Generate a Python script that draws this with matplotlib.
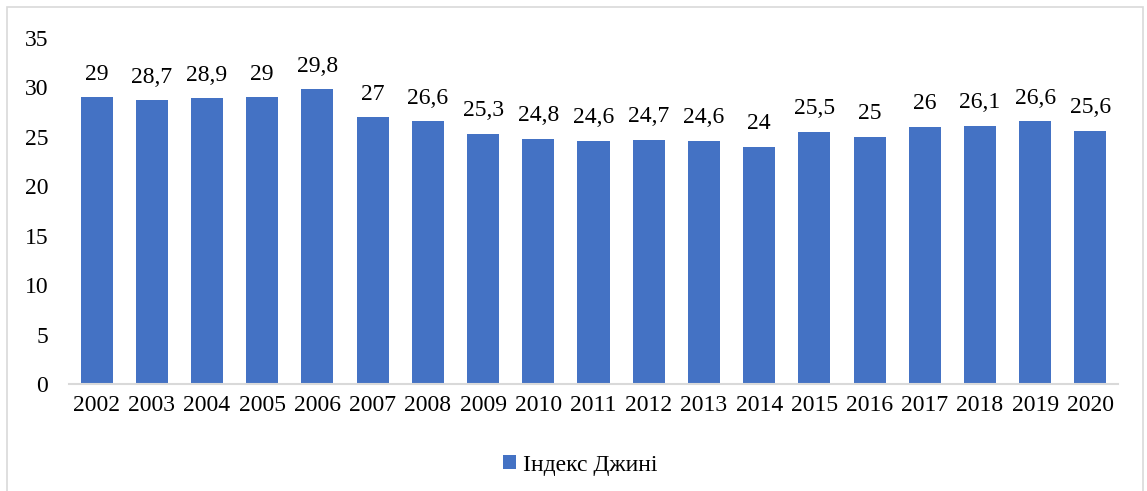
import matplotlib.pyplot as plt
from matplotlib.patches import Rectangle

years = ["2002", "2003", "2004", "2005", "2006", "2007", "2008", "2009", "2010", "2011",
         "2012", "2013", "2014", "2015", "2016", "2017", "2018", "2019", "2020"]
gini = [29, 28.7, 28.9, 29, 29.8, 27, 26.6, 25.3, 24.8, 24.6,
        24.7, 24.6, 24, 25.5, 25, 26, 26.1, 26.6, 25.6]
yticks = [0, 5, 10, 15, 20, 25, 30, 35]

plt.rcParams['font.family'] = ['Liberation Serif', 'DejaVu Serif']

fig = plt.figure(figsize=(11.47, 4.91), dpi=100)
ax = fig.add_axes([69 / 1147, 1 - 384 / 491, (1118 - 69) / 1147, (384 - 38) / 491])

# рамка вокруг рисунка
fig.patches.append(Rectangle((7 / 1147, -0.01), (1143 - 7) / 1147, 1 - 7 / 491 + 0.01,
                             transform=fig.transFigure, fill=False,
                             edgecolor='#D9D9D9', linewidth=1.2))

x = range(len(years))
bars = ax.bar(x, gini, width=0.58, color='#4472C4', label='Індекс Джині')

for b, v in zip(bars, gini):
    txt = ('%g' % v).replace('.', ',')
    ax.annotate(txt, (b.get_x() + b.get_width() / 2, v), xytext=(0, 9),
                textcoords='offset points', ha='center', va='bottom', fontsize=17)

ax.set_xlim(-0.5, len(years) - 0.5)
ax.set_ylim(0, 35)
ax.set_yticks(yticks)
ax.set_xticks(list(x))
ax.set_xticklabels(years)
ax.tick_params(axis='both', length=0, labelsize=17)
ax.tick_params(axis='y', pad=15)
ax.tick_params(axis='x', pad=8)
for s in ['top', 'right', 'left']:
    ax.spines[s].set_visible(False)
ax.spines['bottom'].set_color('#D9D9D9')
ax.spines['bottom'].set_linewidth(1.5)

fig.legend(handles=[bars], labels=['Індекс Джині'], loc='center',
           bbox_to_anchor=(580 / 1147, 1 - 465 / 491), frameon=False, fontsize=17,
           handlelength=0.55, handleheight=0.55, handletextpad=0.3)

fig.savefig('out.png', dpi=100)
